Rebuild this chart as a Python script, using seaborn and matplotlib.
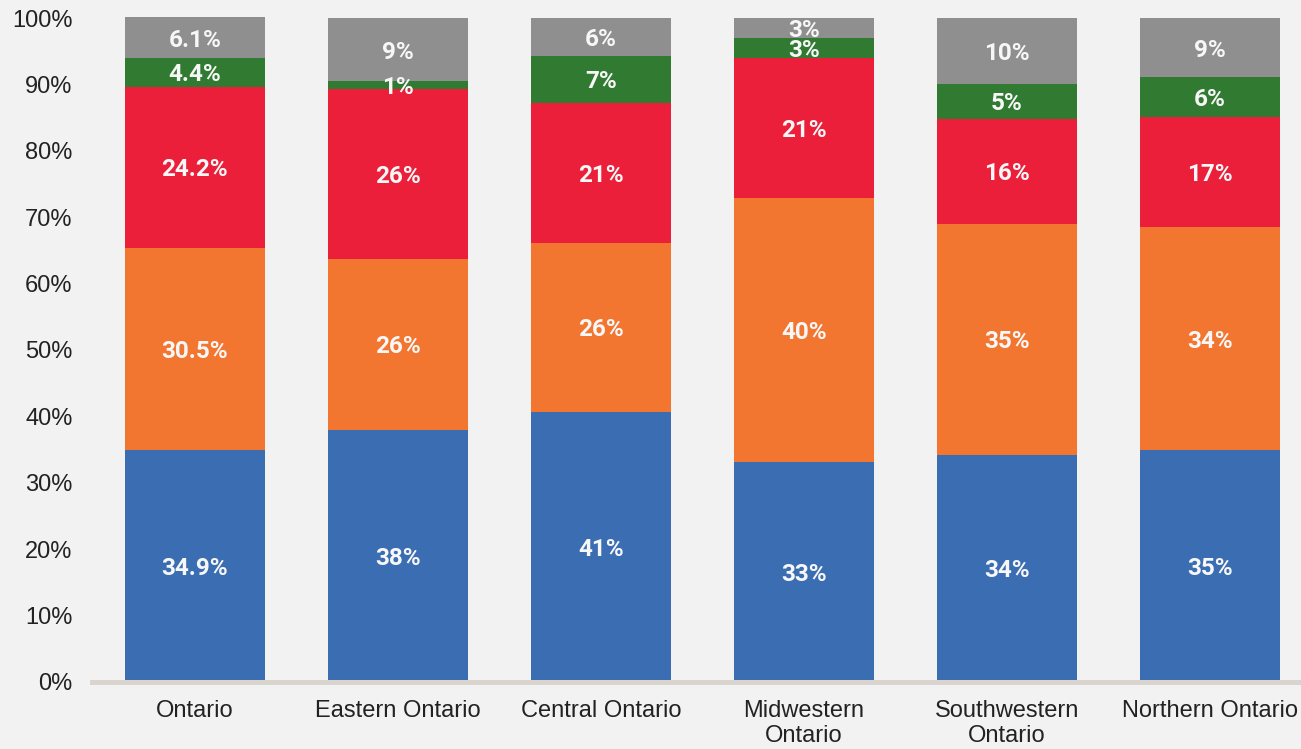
import matplotlib
matplotlib.use("Agg")
import matplotlib.pyplot as plt
import seaborn as sns
import numpy as np
import pandas as pd

# Регионы и доли (в %) по сегментам снизу вверх
regions = ["Ontario", "Eastern Ontario", "Central Ontario",
           "Midwestern\nOntario", "Southwestern\nOntario", "Northern Ontario"]
blue_vals = [34.9, 38.0, 40.7, 33.1, 34.2, 34.9]
orange_vals = [30.5, 25.7, 25.4, 39.8, 34.8, 33.6]
red_vals = [24.2, 25.6, 21.1, 21.1, 15.8, 16.6]
green_vals = [4.4, 1.2, 7.1, 3.0, 5.3, 6.0]
gray_vals = [6.1, 9.5, 5.7, 3.0, 9.9, 8.9]

# Подписи так, как они показаны на графике
blue_labels = ["34.9%", "38%", "41%", "33%", "34%", "35%"]
orange_labels = ["30.5%", "26%", "26%", "40%", "35%", "34%"]
red_labels = ["24.2%", "26%", "21%", "21%", "16%", "17%"]
green_labels = ["4.4%", "1%", "7%", "3%", "5%", "6%"]
gray_labels = ["6.1%", "9%", "6%", "3%", "10%", "9%"]

series = [blue_vals, orange_vals, red_vals, green_vals, gray_vals]
labels = [blue_labels, orange_labels, red_labels, green_labels, gray_labels]
colors = ["#3b6db3", "#f2762f", "#ec1f3a", "#317a32", "#8f8f8f"]

bg = "#f2f2f2"
sns.set_style("white")
plt.rcParams["font.family"] = ["Liberation Sans", "DejaVu Sans"]

fig = plt.figure(figsize=(13.01, 7.49), dpi=100, facecolor=bg)
ax = fig.add_axes([0.0707, 0.0895, 0.9293, 0.8953])
ax.set_facecolor(bg)

cum = np.cumsum(np.array(series), axis=0)

# Рисуем накопленные суммы сверху вниз, чтобы получились стопки
for i in range(len(series) - 1, -1, -1):
    df = pd.DataFrame({"region": regions, "value": cum[i]})
    sns.barplot(data=df, x="region", y="value", color=colors[i], width=0.69,
                saturation=1, linewidth=0, ax=ax)

for i in range(len(series)):
    for j in range(len(regions)):
        y = cum[i][j] - series[i][j] / 2
        ax.text(j, y, labels[i][j], ha="center", va="center_baseline", color="#f7f7f7",
                fontsize=17.5, fontweight="bold", family=["Roboto", "DejaVu Sans"])

ax.set_ylim(0, 101)
ax.set_xlim(-0.507, 5.45)
ax.set_yticks(np.arange(0, 101, 10))
ax.set_yticklabels([f"{t}%" for t in range(0, 101, 10)])
ax.set_xlabel("")
ax.set_ylabel("")
ax.tick_params(axis="both", length=0, labelsize=17, colors="#222222")
ax.tick_params(axis="y", pad=14)
ax.tick_params(axis="x", pad=13)

for s in ["top", "right", "left"]:
    ax.spines[s].set_visible(False)
ax.spines["bottom"].set_color("#d9d4cd")
ax.spines["bottom"].set_linewidth(3.6)

fig.savefig("out.png", dpi=100, facecolor=bg)
